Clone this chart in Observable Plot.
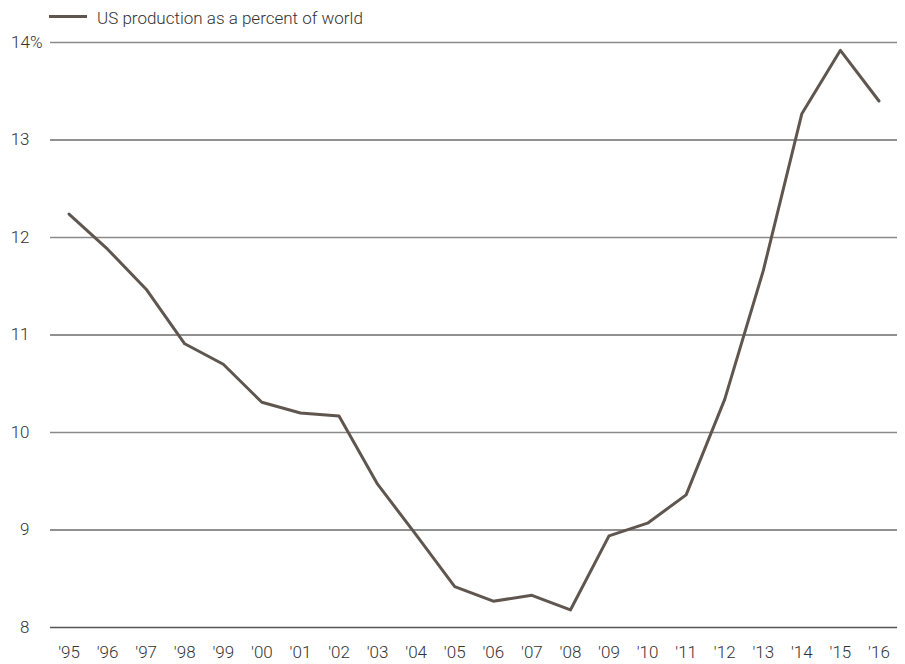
<!DOCTYPE html>
<html>
<head>
<meta charset="utf-8">
<script src="https://cdn.jsdelivr.net/npm/d3@7"></script>
<script src="https://cdn.jsdelivr.net/npm/@observablehq/plot@0.6"></script>
<style>
  body { margin: 0; background: #fff; font-family: Roboto, "Liberation Sans", sans-serif; font-weight: 300; color: #333; }
  #legend { position: relative; height: 30px; width: 905px; }
  #legend .sw { position: absolute; left: 49px; top: 15px; width: 38px; height: 3px; background: #5f5650; }
  #legend .lab { position: absolute; left: 97px; top: 8px; font-size: 17px; line-height: 20px; color: #333; font-weight: 300; }
</style>
</head>
<body>
<div id="legend"><div class="sw"></div><div class="lab">US production as a percent of world</div></div>
<div id="chart"></div>
<script>
const years = ["'95","'96","'97","'98","'99","'00","'01","'02","'03","'04","'05","'06","'07","'08","'09","'10","'11","'12","'13","'14","'15","'16"];
const usShare = [12.24, 11.88, 11.47, 10.91, 10.70, 10.31, 10.20, 10.17, 9.47, 8.95, 8.42, 8.27, 8.33, 8.18, 8.94, 9.07, 9.36, 10.34, 11.66, 13.27, 13.92, 13.40];
const yTicks = [8, 9, 10, 11, 12, 13, 14];

const data = years.map((y, i) => ({year: y, value: usShare[i]}));
const font = 'Roboto, "Liberation Sans", sans-serif';

const chart = Plot.plot({
  width: 905,
  height: 634,
  marginTop: 12,
  marginBottom: 37,
  marginLeft: 50,
  marginRight: 8,
  style: {fontFamily: font, fontSize: "17px", fontWeight: 300, color: "#333", background: "#fff"},
  x: {type: "point", domain: years, padding: 0.48, round: false, label: null},
  y: {domain: [8, 14], label: null},
  marks: [
    Plot.ruleY(yTicks.filter(d => d % 2 === 1), {stroke: "#222", strokeWidth: 1}),
    Plot.ruleY(yTicks.filter(d => d % 2 === 0 && d !== 8), {stroke: "#8a8a8a", strokeWidth: 1.5}),
    Plot.ruleY([8], {stroke: "#555", strokeWidth: 1.5}),
    Plot.axisY(yTicks.filter(d => d !== 14), {tickSize: 0, tickPadding: 21, label: null, tickFormat: d => String(d), fontSize: 17, fill: "#333"}),
    Plot.axisY([14], {tickSize: 0, tickPadding: 8, label: null, tickFormat: d => d + "%", fontSize: 17, fill: "#333"}),
    Plot.axisX({tickSize: 0, tickPadding: 18, label: null, fontSize: 17, fill: "#333"}),
    Plot.line(data, {x: "year", y: "value", stroke: "#5f5650", strokeWidth: 3})
  ]
});
document.getElementById("chart").appendChild(chart);
</script>
</body>
</html>
